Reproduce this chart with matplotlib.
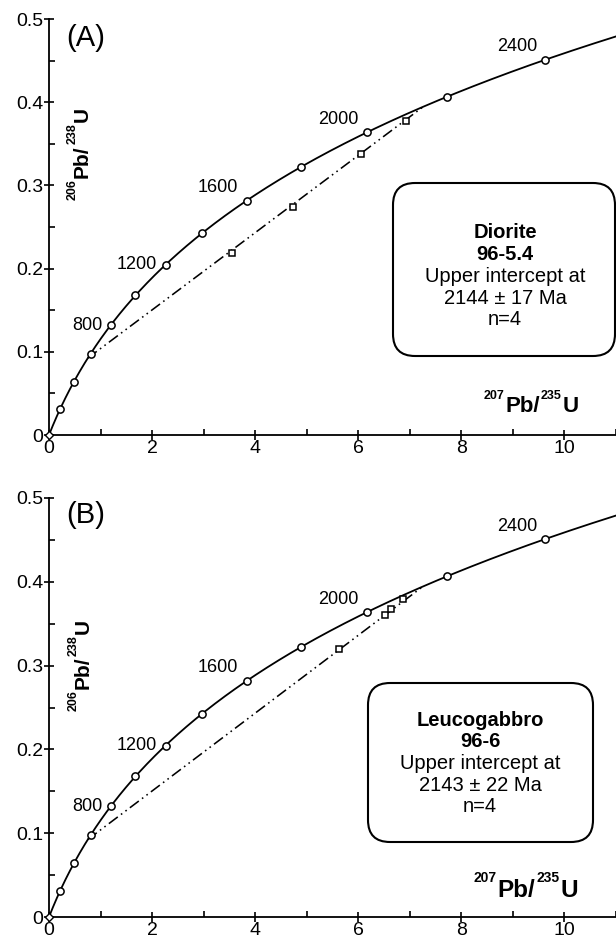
import numpy as np
import matplotlib
matplotlib.use("Agg")
import matplotlib.pyplot as plt
from matplotlib.patches import FancyBboxPatch
from matplotlib.transforms import IdentityTransform
from matplotlib.ticker import MultipleLocator

plt.rcParams["font.family"] = ["Liberation Sans", "DejaVu Sans"]

# U-Pb decay constants (per year)
LAMBDA_238 = 1.55125e-10
LAMBDA_235 = 9.8485e-10

# Concordia age markers (Ma) and the ones that carry a label
concordia_ages = [0, 200, 400, 600, 800, 1000, 1200, 1400, 1600, 1800, 2000, 2200, 2400]
labelled_ages = [800, 1200, 1600, 2000, 2400]

# Zircon analyses: 207Pb/235U and 206Pb/238U
diorite_pb207_u235 = [3.55, 4.74, 6.05, 6.93]
diorite_pb206_u238 = [0.219, 0.274, 0.338, 0.378]
leuco_pb207_u235 = [5.62, 6.51, 6.63, 6.87]
leuco_pb206_u238 = [0.320, 0.360, 0.367, 0.380]

# Discordia intercepts (Ma)
diorite_upper_age = 2144
diorite_upper_err = 17
leuco_upper_age = 2143
leuco_upper_err = 22
lower_intercept_age = 570

x_ticks = [0, 2, 4, 6, 8, 10]
y_ticks = [0, 0.1, 0.2, 0.3, 0.4, 0.5]
y_tick_labels = ["0", "0.1", "0.2", "0.3", "0.4", "0.5"]

W, H = 616, 941
fig = plt.figure(figsize=(W / 100, H / 100), dpi=100)
PX = IdentityTransform()


def concordia(age_ma):
    t = np.asarray(age_ma, dtype=float) * 1e6
    return np.exp(LAMBDA_235 * t) - 1, np.exp(LAMBDA_238 * t) - 1


def isotope_label(x, y, parts, size, sup_size, rotation=0, rise_frac=0.6):
    """Bold ratio label with small superscript mass numbers, centred on (x, y) baseline."""
    renderer = fig.canvas.get_renderer()
    items = []
    for s, sup in parts:
        t = fig.text(0, 0, s, fontsize=sup_size if sup else size, fontweight="bold",
                     transform=PX, ha="left", va="baseline",
                     rotation=rotation, rotation_mode="anchor")
        bb = t.get_window_extent(renderer)
        items.append((t, bb.height if rotation == 90 else bb.width, sup))
    total = sum(w for _, w, _ in items) + 1.0 * (len(items) - 1)
    pos = -total / 2
    rise = rise_frac * size * 100 / 72
    for t, w, sup in items:
        r = rise if sup else 0
        if rotation == 90:
            t.set_position((x - r, y + pos))
        else:
            t.set_position((x + pos, y + r))
        pos += w + 1.0


def draw_panel(rect, xs, ys, upper_age):
    ax = fig.add_axes(rect)
    ax.set_xlim(0, 11)
    ax.set_ylim(0, 0.5)
    for side in ("top", "right"):
        ax.spines[side].set_visible(False)
    for side in ("left", "bottom"):
        ax.spines[side].set_linewidth(1.3)
    ax.set_xticks(x_ticks)
    ax.set_yticks(y_ticks)
    ax.set_yticklabels(y_tick_labels)
    ax.xaxis.set_minor_locator(MultipleLocator(1))
    ax.yaxis.set_minor_locator(MultipleLocator(0.05))
    ax.tick_params(which="major", direction="inout", length=7, width=1.2, labelsize=14, pad=0.2)
    ax.tick_params(which="minor", direction="in", length=4, width=1.2)
    ax.tick_params(axis="y", which="major", pad=0.8)

    # concordia curve
    t_curve = np.linspace(0, 2560, 600)
    cx, cy = concordia(t_curve)
    ax.plot(cx, cy, color="black", lw=1.3, zorder=2)

    # discordia line between the two intercepts
    dx, dy = concordia([lower_intercept_age, upper_age])
    ax.plot(dx, dy, color="black", lw=1.15,
            linestyle=(0, (7, 2.5, 1, 2.5, 1, 2.5)), zorder=2)

    # age markers on the concordia
    mx, my = concordia(concordia_ages[1:])
    ax.plot(mx, my, "o", ms=5.2, mfc="white", mec="black", mew=1.1, zorder=4, clip_on=False)
    ox, oy = concordia(concordia_ages[:1])
    ax.plot(ox, oy, "D", ms=4, mfc="white", mec="black", mew=1.0, zorder=5, clip_on=False)

    for age in labelled_ages:
        lx, ly = concordia(age)
        if age < 1400:
            ax.annotate(str(age), (lx, ly), xytext=(-6, 0), textcoords="offset points",
                        ha="right", va="center", fontsize=13)
        else:
            ax.annotate(str(age), (lx, ly), xytext=(-6, 3.2), textcoords="offset points",
                        ha="right", va="bottom", fontsize=13)

    # analyses
    ax.plot(xs, ys, "s", ms=4.6, mfc="white", mec="black", mew=1.1, zorder=5)
    return ax


def info_box(x0, y0, x1, y1, cx, top, lines):
    box = FancyBboxPatch((x0, H - y1), x1 - x0, y1 - y0,
                         boxstyle="round,pad=0,rounding_size=22",
                         transform=PX, facecolor="white", edgecolor="black",
                         lw=1.5, zorder=10)
    fig.add_artist(box)
    for i, (txt, bold) in enumerate(lines):
        fig.text(cx, H - (top + 21.7 * i), txt, transform=PX, ha="center", va="center",
                 fontsize=14.5, fontweight="bold" if bold else "normal", zorder=11)


# Panel A: diorite
draw_panel([49 / W, 506 / H, 567 / W, 416 / H], diorite_pb207_u235, diorite_pb206_u238,
           diorite_upper_age)
fig.text(86, H - 38, "(A)", transform=PX, ha="center", va="center", fontsize=21)
info_box(393, 183, 615, 356, 505, 233,
         [("Diorite", True), ("96-5.4", True), ("Upper intercept at", False),
          (f"{diorite_upper_age} \u00b1 {diorite_upper_err} Ma", False),
          (f"n={len(diorite_pb207_u235)}", False)])
isotope_label(531, H - 412, [("207", True), ("Pb/", False), ("235", True), ("U", False)], 16, 9)
isotope_label(88, H - 153.5, [("206", True), ("Pb/", False), ("238", True), ("U", False)], 15, 9,
              rotation=90)

# Panel B: leucogabbro
draw_panel([49 / W, 24 / H, 567 / W, 419 / H], leuco_pb207_u235, leuco_pb206_u238,
           leuco_upper_age)
fig.text(86, H - 515, "(B)", transform=PX, ha="center", va="center", fontsize=21)
info_box(368, 683, 593, 842, 480, 720,
         [("Leucogabbro", True), ("96-6", True), ("Upper intercept at", False),
          (f"{leuco_upper_age} \u00b1 {leuco_upper_err} Ma", False),
          (f"n={len(leuco_pb207_u235)}", False)])
isotope_label(525.5, H - 897, [("207", True), ("Pb/", False), ("235", True), ("U", False)], 17.5, 10)
isotope_label(89, H - 665, [("206", True), ("Pb/", False), ("238", True), ("U", False)], 15, 9,
              rotation=90)

fig.savefig("out.png", dpi=100)
